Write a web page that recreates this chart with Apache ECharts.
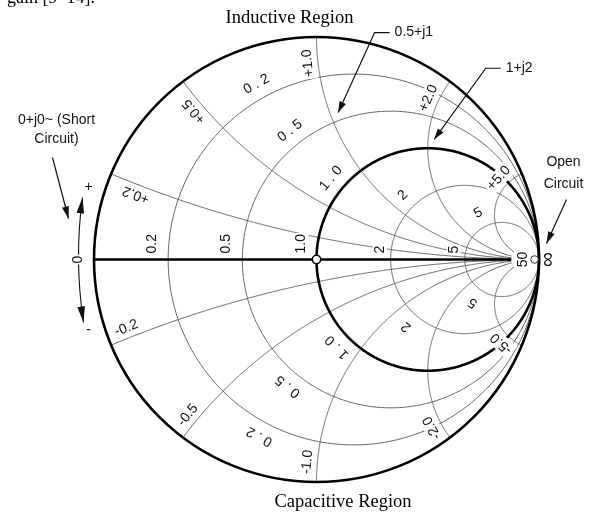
<!DOCTYPE html>
<html>
<head>
<meta charset="utf-8">
<title>Smith chart</title>
<script src="https://cdn.jsdelivr.net/npm/echarts@6/dist/echarts.min.js"></script>
<style>
html, body { margin: 0; padding: 0; background: #fff; }
#chart { width: 589px; height: 513px; }
</style>
</head>
<body>
<div id="chart"></div>
<script>
// Normalized resistance circles and reactance arcs of the chart
const resistanceValues = [0.2, 0.5, 1, 2, 5];
const reactanceValues = [0.2, 0.5, 1, 2, 5, -0.2, -0.5, -1, -2, -5];
// Tick labels on the real axis
const axisLabelValues = [0.2, 0.5, 1, 2, 5, 50];
const axisLabelTexts = ['0.2', '0.5', '1.0', '2', '5', '50'];
// Labels written along the resistance circles
const resistanceLabelTexts = ['0 . 2', '0 . 5', '1 . 0', '2', '5'];
// Labels at the outer ends of the reactance arcs
const reactanceLabelTexts = ['+0.2', '+0.5', '+1.0', '+2.0', '+5.0', '-0.2', '-0.5', '-1.0', '-2.0', '-5.0'];
// Annotated impedances
const markedR = [0.5, 1];
const markedX = [1, 2];
const markedTexts = ['0.5+j1', '1+j2'];
// Resistance at which the reactance arcs and the real axis stop
const arcEndResistance = 15;

// Placement of the labels (angles in degrees, offsets in pixels)
const layout = {
  resLabelAngleTop: [119, 128, 140, 134, 117],
  resLabelAngleBottom: [-118, -129, -136, -131, -124],
  resLabelOffset: 15,
  reactLabelT: [0.077, 0.09, 0.12, 0.29, 1.2, 0.05, 0.06, 0.09, 0.2, 1.0],
  reactLabelOffset: 10,
  axisLabelGap: [9, 9, 8, 4, 4, 7],
  markedElbow: [[41, -90], [58, -80]],
  markedLeader: 15,
  markedTipGap: 11
};

const GREY = '#5e5e5e';
const INK = '#111';
const SANS = '"Liberation Sans", Arial, sans-serif';
const SERIF = '"Liberation Serif", "Times New Roman", serif';
const LABEL_FONT = '14px ' + SANS;

function gamma(r, x) {
  const d = (r + 1) * (r + 1) + x * x;
  return [(r * r - 1 + x * x) / d, 2 * x / d];
}

function textEl(text, x, y, rotation, extra) {
  return {
    type: 'text', x: x, y: y, rotation: rotation || 0, z2: 20,
    style: Object.assign({
      text: text, font: LABEL_FONT, fill: INK,
      align: 'center', verticalAlign: 'middle',
      backgroundColor: '#fff', padding: [1, 2]
    }, extra || {})
  };
}

function arrowHead(tip, from, len, half) {
  let dx = tip[0] - from[0], dy = tip[1] - from[1];
  const m = Math.hypot(dx, dy); dx /= m; dy /= m;
  const bx = tip[0] - dx * len, by = tip[1] - dy * len;
  return {
    type: 'polygon', z2: 30,
    shape: { points: [tip, [bx - dy * half, by + dx * half], [bx + dy * half, by - dx * half]] },
    style: { fill: INK, stroke: null }
  };
}

const indexData = n => Array.from({ length: n }, (_, i) => [i, 0]);

const chart = echarts.init(document.getElementById('chart'));

const series = [];

// resistance circles
series.push({
  type: 'custom', coordinateSystem: 'cartesian2d', z: 2, silent: true,
  data: indexData(resistanceValues.length),
  renderItem(params, api) {
    const r = resistanceValues[params.dataIndex];
    const cx = r / (1 + r), R = 1 / (1 + r);
    const pts = [];
    for (let i = 0; i <= 720; i++) {
      const a = Math.PI * 2 * i / 720;
      pts.push(api.coord([cx + R * Math.cos(a), R * Math.sin(a)]));
    }
    const thick = r === 1;
    return {
      type: 'polyline', z2: thick ? 10 : 1, shape: { points: pts },
      style: { stroke: thick ? '#000' : GREY, lineWidth: thick ? 2.6 : 1, fill: null }
    };
  }
});

// reactance arcs and the real axis (x = 0)
const arcValues = reactanceValues.concat([0]);
series.push({
  type: 'custom', coordinateSystem: 'cartesian2d', z: 2, silent: true,
  data: indexData(arcValues.length),
  renderItem(params, api) {
    const x = arcValues[params.dataIndex];
    const uMax = Math.atan(arcEndResistance);
    const pts = [];
    for (let i = 0; i <= 500; i++) {
      pts.push(api.coord(gamma(Math.tan(uMax * i / 500), x)));
    }
    const thick = x === 0;
    return {
      type: 'polyline', z2: thick ? 10 : 1, shape: { points: pts },
      style: { stroke: thick ? '#000' : GREY, lineWidth: thick ? 2.6 : 1, fill: null }
    };
  }
});

// outer boundary |Γ| = 1
series.push({
  type: 'custom', coordinateSystem: 'cartesian2d', z: 3, silent: true,
  data: [[0, 0]],
  renderItem(params, api) {
    const c = api.coord([0, 0]);
    const R = api.size([1, 0])[0];
    return {
      type: 'circle', shape: { cx: c[0], cy: c[1], r: R },
      style: { stroke: '#000', lineWidth: 2.6, fill: null }
    };
  }
});

// labels on the real axis
series.push({
  type: 'custom', coordinateSystem: 'cartesian2d', z: 4, silent: true,
  data: indexData(axisLabelValues.length),
  renderItem(params, api) {
    const i = params.dataIndex;
    const p = api.coord(gamma(axisLabelValues[i], 0));
    const gap = layout.axisLabelGap[i];
    if (i === axisLabelValues.length - 1) {
      return textEl(axisLabelTexts[i], p[0] - gap, p[1], Math.PI / 2, { padding: [0, 1] });
    }
    return textEl(axisLabelTexts[i], p[0] - gap, p[1] - 5, Math.PI / 2,
      { align: 'left', verticalAlign: 'bottom', padding: [0, 1] });
  }
});

// labels along the resistance circles, upper and lower half
series.push({
  type: 'custom', coordinateSystem: 'cartesian2d', z: 4, silent: true,
  data: indexData(resistanceValues.length * 2),
  renderItem(params, api) {
    const n = resistanceValues.length;
    const k = params.dataIndex % n;
    const upper = params.dataIndex < n;
    const r = resistanceValues[k];
    const phi = (upper ? layout.resLabelAngleTop[k] : layout.resLabelAngleBottom[k]) * Math.PI / 180;
    const cx = r / (1 + r), R = 1 / (1 + r);
    const p = api.coord([cx + R * Math.cos(phi), R * Math.sin(phi)]);
    const nx = Math.cos(phi), ny = -Math.sin(phi);
    const off = layout.resLabelOffset;
    return textEl(resistanceLabelTexts[k], p[0] + nx * off, p[1] + ny * off, Math.atan2(-nx, -ny));
  }
});

// labels at the outer ends of the reactance arcs
series.push({
  type: 'custom', coordinateSystem: 'cartesian2d', z: 4, silent: true,
  data: indexData(reactanceValues.length),
  renderItem(params, api) {
    const i = params.dataIndex;
    const x = reactanceValues[i];
    const P = gamma(layout.reactLabelT[i], x);
    let nx = P[0] - 1, ny = P[1] - 1 / x;
    const m = Math.hypot(nx, ny);
    nx /= m; ny = -ny / m;
    const p = api.coord(P);
    const off = layout.reactLabelOffset;
    return textEl(reactanceLabelTexts[i], p[0] + nx * off, p[1] + ny * off, Math.atan2(-nx, -ny));
  }
});

// annotated impedance points with leader arrows
series.push({
  type: 'custom', coordinateSystem: 'cartesian2d', z: 6, silent: true,
  data: indexData(markedR.length),
  renderItem(params, api) {
    const i = params.dataIndex;
    const target = api.coord(gamma(markedR[i], markedX[i]));
    const e = layout.markedElbow[i];
    const elbow = [target[0] + e[0], target[1] + e[1]];
    const start = [elbow[0] + layout.markedLeader, elbow[1]];
    const dx = target[0] - elbow[0], dy = target[1] - elbow[1];
    const m = Math.hypot(dx, dy);
    const tip = [target[0] - dx / m * layout.markedTipGap, target[1] - dy / m * layout.markedTipGap];
    return {
      type: 'group',
      children: [
        { type: 'polyline', shape: { points: [start, elbow, tip] }, style: { stroke: INK, lineWidth: 1.2, fill: null } },
        arrowHead(tip, elbow, 11, 3.5),
        textEl(markedTexts[i], start[0] + 5, start[1], 0, { align: 'left', backgroundColor: null, padding: 0 })
      ]
    };
  }
});

// short circuit and open circuit annotations, centre marker
series.push({
  type: 'custom', coordinateSystem: 'cartesian2d', z: 7, silent: true,
  data: [[0, 0]],
  renderItem(params, api) {
    const s = api.coord(gamma(0, 0));
    const o = api.coord([1, 0]);
    const c = api.coord(gamma(1, 0));
    const at = (p, dx, dy) => [p[0] + dx, p[1] + dy];

    // curved double arrow beside the short-circuit point
    const p0 = at(s, -11.5, -62), pm = at(s, -15.5, 0), p2 = at(s, -10.5, 63);
    const cp = [2 * pm[0] - (p0[0] + p2[0]) / 2, 2 * pm[1] - (p0[1] + p2[1]) / 2];
    const shortTail = at(s, -41.5, -102), shortTip = at(s, -25.5, -41);
    const openTail = at(o, 27.5, -60), openTip = at(o, 7.5, -16);
    const plain = { backgroundColor: null, padding: 0 };
    return {
      type: 'group',
      children: [
        { type: 'bezierCurve', shape: { x1: p0[0], y1: p0[1], x2: p2[0], y2: p2[1], cpx1: cp[0], cpy1: cp[1] },
          style: { stroke: INK, lineWidth: 1.1, fill: null } },
        arrowHead(p0, cp, 16, 3.8),
        arrowHead(p2, cp, 16, 3.8),
        textEl('0', pm[0], pm[1], Math.PI / 2, { padding: [1, 1] }),
        textEl('+', p0[0] + 6, p0[1] - 10, 0, plain),
        textEl('-', p2[0] + 5, p2[1] + 8, 0, plain),

        { type: 'line', shape: { x1: shortTail[0], y1: shortTail[1], x2: shortTip[0], y2: shortTip[1] },
          style: { stroke: INK, lineWidth: 1.2 } },
        arrowHead(shortTip, shortTail, 12, 3.5),
        textEl('0+j0~ (Short', s[0] - 37.5, s[1] - 139, 0, plain),
        textEl('Circuit)', s[0] - 37.5, s[1] - 120, 0, plain),

        { type: 'line', shape: { x1: openTail[0], y1: openTail[1], x2: openTip[0], y2: openTip[1] },
          style: { stroke: INK, lineWidth: 1.2 } },
        arrowHead(openTip, openTail, 12, 3.5),
        textEl('Open', o[0] + 24.5, o[1] - 97, 0, plain),
        textEl('Circuit', o[0] + 24.5, o[1] - 75, 0, plain),

        textEl('\u221e', o[0] + 9, o[1], Math.PI / 2, { font: '21px ' + SANS, backgroundColor: null, padding: 0 }),
        { type: 'circle', z2: 30, shape: { cx: o[0] - 4.5, cy: o[1], r: 3.8 },
          style: { fill: '#fff', stroke: '#333', lineWidth: 1 } },
        { type: 'circle', z2: 30, shape: { cx: c[0], cy: c[1], r: 4.2 },
          style: { fill: '#fff', stroke: '#000', lineWidth: 1.6 } }
      ]
    };
  }
});

chart.setOption({
  animation: false,
  backgroundColor: '#fff',
  grid: { left: 94, top: 37, width: 445, height: 445 },
  xAxis: { type: 'value', min: -1, max: 1, show: false },
  yAxis: { type: 'value', min: -1, max: 1, show: false },
  graphic: [
    { type: 'text', x: 7, y: -2, style: { text: 'gain [9\u201314].', font: '18px ' + SERIF, fill: '#000', align: 'left', verticalAlign: 'middle' } },
    { type: 'text', x: 289.5, y: 18, style: { text: 'Inductive Region', font: '18.5px ' + SERIF, fill: '#000', align: 'center', verticalAlign: 'middle' } },
    { type: 'text', x: 343, y: 502, style: { text: 'Capacitive Region', font: '18.5px ' + SERIF, fill: '#000', align: 'center', verticalAlign: 'middle' } }
  ],
  series: series
});
</script>
</body>
</html>
